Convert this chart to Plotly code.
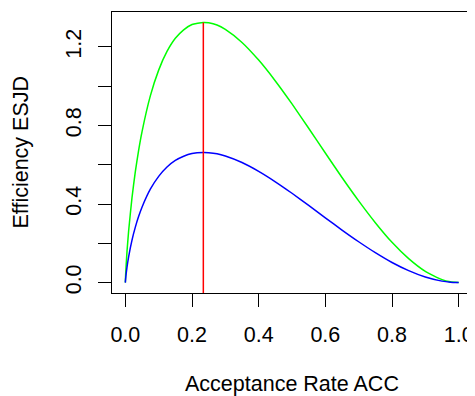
import plotly.graph_objects as go

# Acceptance rate values and efficiency (ESJD)
acc = [0.0, 0.001, 0.0025, 0.005, 0.01, 0.02, 0.03, 0.04, 0.05, 0.075, 0.1, 0.125, 0.15,
       0.175, 0.2, 0.234, 0.25, 0.275, 0.3, 0.35, 0.4, 0.45, 0.5, 0.55, 0.6, 0.65, 0.7,
       0.75, 0.8, 0.85, 0.9, 0.95, 0.975, 1.0]
esjd_green = [0.0, 0.043, 0.091, 0.158, 0.265, 0.433, 0.565, 0.675, 0.768, 0.951, 1.082,
              1.177, 1.244, 1.287, 1.314, 1.325, 1.323, 1.312, 1.289, 1.223, 1.133, 1.027,
              0.910, 0.786, 0.660, 0.535, 0.416, 0.305, 0.205, 0.122, 0.057, 0.015, 0.004, 0.0]
esjd_blue = [0.0, 0.0215, 0.0455, 0.079, 0.1325, 0.2165, 0.2825, 0.3375, 0.384, 0.4755,
             0.541, 0.5885, 0.622, 0.6435, 0.657, 0.6625, 0.6615, 0.656, 0.6445, 0.6115,
             0.5665, 0.5135, 0.455, 0.393, 0.330, 0.2675, 0.208, 0.1525, 0.1025, 0.061,
             0.0285, 0.0075, 0.002, 0.0]
acc_opt = 0.234
x_ticks = [0.0, 0.2, 0.4, 0.6, 0.8, 1.0]
x_tick_labels = ["0.0", "0.2", "0.4", "0.6", "0.8", "1.0"]
y_ticks = [0.0, 0.2, 0.4, 0.6, 0.8, 1.0, 1.2]
y_tick_labels = ["0.0", "", "0.4", "", "0.8", "", "1.2"]

ymax = max(esjd_green)
yr = [0 - 0.04 * ymax, ymax * 1.04]
xr = [-0.04, 1.04]

fig = go.Figure()
fig.add_trace(go.Scatter(x=acc, y=esjd_green, mode="lines",
                         line=dict(color="#00ff00", width=1.5, shape="spline", smoothing=0.5)))
fig.add_trace(go.Scatter(x=acc, y=esjd_blue, mode="lines",
                         line=dict(color="#0000ff", width=1.5, shape="spline", smoothing=0.5)))
fig.add_trace(go.Scatter(x=[acc_opt, acc_opt], y=[yr[0] - 0.1, ymax], mode="lines",
                         line=dict(color="#ff0000", width=1.5)))

font = dict(family="Liberation Sans, Arial, sans-serif", size=21.5, color="black")
fig.update_layout(
    width=467, height=388,
    margin=dict(l=103.7, r=3.3, t=4, b=102.7, autoexpand=False),
    paper_bgcolor="white", plot_bgcolor="white",
    showlegend=False, font=font,
    xaxis=dict(range=xr, tickvals=x_ticks, ticktext=x_tick_labels, ticks="outside",
               ticklen=13, tickwidth=1, tickcolor="black", showgrid=False, zeroline=False,
               showline=True, linecolor="black", linewidth=1.3, mirror=True,
               ticklabelstandoff=9, tickfont=font, automargin=False),
    yaxis=dict(range=yr, tickvals=y_ticks, ticktext=y_tick_labels, ticks="outside",
               ticklen=13, tickwidth=1, tickcolor="black", showgrid=False, zeroline=False,
               showline=True, linecolor="black", linewidth=1.3, mirror=True,
               tickangle=-90, ticklabelstandoff=8, tickfont=font, automargin=False),
    annotations=[
        dict(text="Acceptance Rate ACC", xref="paper", yref="paper", x=0.5, y=0,
             yshift=-91, xanchor="center", yanchor="middle", showarrow=False, font=font),
        dict(text="Efficiency ESJD", xref="paper", yref="paper", x=0, y=0.5,
             xshift=-92, textangle=-90, xanchor="center", yanchor="middle",
             showarrow=False, font=font),
    ],
)
fig.write_html("out.html")
